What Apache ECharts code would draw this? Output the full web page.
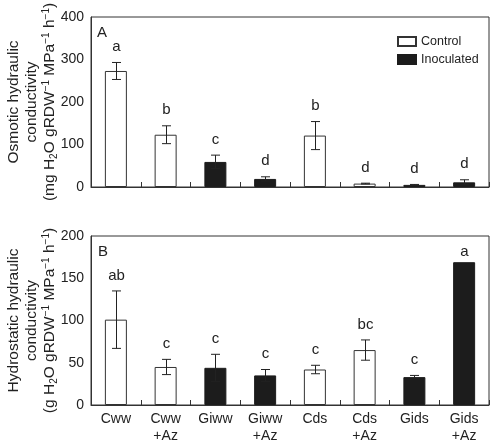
<!DOCTYPE html>
<html>
<head>
<meta charset="utf-8">
<script src="https://cdn.jsdelivr.net/npm/echarts@6/dist/echarts.min.js"></script>
<style>
html,body{margin:0;padding:0;background:#fff;}
#chart{width:491px;height:445px;}
</style>
</head>
<body>
<div id="chart"></div>
<script>
// ---- data ----
const categories = ['Cww', 'Cww\n+Az', 'Giww', 'Giww\n+Az', 'Cds', 'Cds\n+Az', 'Gids', 'Gids\n+Az'];
const treatment = ['Control', 'Control', 'Inoculated', 'Inoculated', 'Control', 'Control', 'Inoculated', 'Inoculated'];
const osmoticMean = [273, 123, 59, 19, 121, 8, 5, 11];
const osmoticErr = [20, 21, 16, 5, 33, 1, 1, 6];
const osmoticLetters = ['a', 'b', 'c', 'd', 'b', 'd', 'd', 'd'];
const hydroMean = [101, 45, 44, 35, 42, 65, 33, 169];
const hydroErr = [34, 9, 16, 7, 5, 12, 2, 0];
const hydroLetters = ['ab', 'c', 'c', 'c', 'c', 'bc', 'c', 'a'];
const osmoticTicks = {min: 0, max: 400, interval: 100};
const hydroTicks = {min: 0, max: 200, interval: 50};

const FONT = '"Liberation Sans", Arial, Helvetica, sans-serif';
const INK = '#222';
const FRAME = '#333';
const BLACK = '#1c1c1c';

function splitBy(values, group) {
  return values.map((v, i) => treatment[i] === group ? v : null);
}

function errSeries(gridIdx, means, errs, letters) {
  return {
    type: 'custom',
    xAxisIndex: gridIdx,
    yAxisIndex: gridIdx,
    z: 10,
    silent: true,
    encode: {x: 0, y: 1},
    data: means.map((m, i) => [i, m, errs[i]]),
    renderItem: function (params, api) {
      const i = api.value(0), m = api.value(1), e = api.value(2);
      const top = api.coord([i, m + e]);
      const bot = api.coord([i, m - e]);
      const x = Math.round(top[0]) + 0.5;
      const hw = 4.5;
      const children = [];
      const ls = {stroke: INK, lineWidth: 1};
      if (e > 0) {
        children.push({type: 'line', shape: {x1: x, y1: top[1], x2: x, y2: bot[1]}, style: ls});
        children.push({type: 'line', shape: {x1: x - hw, y1: top[1], x2: x + hw, y2: top[1]}, style: ls});
        children.push({type: 'line', shape: {x1: x - hw, y1: bot[1], x2: x + hw, y2: bot[1]}, style: ls});
      }
      children.push({
        type: 'text',
        style: {
          text: letters[params.dataIndex],
          x: x,
          y: top[1] - (e > 0 ? 8 : 3),
          align: 'center',
          verticalAlign: 'bottom',
          fontSize: 15,
          fontFamily: FONT,
          fill: INK
        }
      });
      return {type: 'group', children: children};
    }
  };
}

function barSeries(gridIdx, name, means) {
  const isCtrl = name === 'Control';
  return {
    type: 'bar',
    name: name,
    xAxisIndex: gridIdx,
    yAxisIndex: gridIdx,
    barWidth: 22,
    barGap: '-100%',
    data: splitBy(means, name),
    itemStyle: isCtrl
      ? {color: '#ffffff', borderColor: FRAME, borderWidth: 1}
      : {color: BLACK, borderColor: BLACK, borderWidth: 1},
    emphasis: {disabled: true}
  };
}

const richName = {
  t: {fontSize: 15.5, lineHeight: 18, fontFamily: FONT, color: INK},
  sub: {fontSize: 10, lineHeight: 10, fontFamily: FONT, color: INK, verticalAlign: 'bottom'},
  sup: {fontSize: 10, lineHeight: 10, fontFamily: FONT, color: INK, verticalAlign: 'top'}
};

const osmoticName = '{t|Osmotic hydraulic}\n{t|conductivity}\n{t|(mg H}{sub|2}{t|O gRDW}{sup|−1}{t| MPa}{sup|−1}{t| h}{sup|−1}{t|)}';
const hydroName = '{t|Hydrostatic hydraulic}\n{t|conductivity}\n{t|(g H}{sub|2}{t|O gRDW}{sup|−1}{t| MPa}{sup|−1}{t| h}{sup|−1}{t|)}';

function yAxisDef(gridIdx, ticks, name) {
  return {
    type: 'value',
    gridIndex: gridIdx,
    min: ticks.min,
    max: ticks.max,
    interval: ticks.interval,
    name: name,
    nameLocation: 'middle',
    nameRotate: 90,
    nameGap: 32,
    nameMoveOverlap: false,
    nameTextStyle: {rich: richName},
    axisLine: {show: true, lineStyle: {color: FRAME, width: 1}},
    axisTick: {show: false},
    splitLine: {show: false},
    axisLabel: {fontSize: 14, fontFamily: FONT, color: INK, margin: 7}
  };
}

function xAxisDef(gridIdx, showLabels) {
  return {
    type: 'category',
    gridIndex: gridIdx,
    data: categories,
    boundaryGap: true,
    axisLine: {show: true, lineStyle: {color: FRAME, width: 1}},
    axisTick: {show: true, inside: true, length: 5, lineStyle: {color: FRAME}},
    axisLabel: {
      show: showLabels,
      interval: 0,
      fontSize: 14,
      lineHeight: 17,
      margin: 6,
      fontFamily: FONT,
      color: INK
    },
    splitLine: {show: false}
  };
}

const chart = echarts.init(document.getElementById('chart'), null, {renderer: 'canvas'});
chart.setOption({
  animation: false,
  backgroundColor: '#ffffff',
  textStyle: {fontFamily: FONT},
  title: [
    {text: 'A', left: 97, top: 25, padding: 0, textStyle: {fontSize: 15, fontWeight: 'normal', color: INK, fontFamily: FONT}},
    {text: 'B', left: 98, top: 244, padding: 0, textStyle: {fontSize: 15, fontWeight: 'normal', color: INK, fontFamily: FONT}}
  ],
  legend: {
    data: ['Control', 'Inoculated'],
    orient: 'vertical',
    left: 397,
    top: 35,
    padding: 0,
    itemWidth: 18,
    itemHeight: 9,
    itemGap: 5,
    icon: 'rect',
    selectedMode: false,
    textStyle: {fontSize: 12.5, fontFamily: FONT, color: INK}
  },
  grid: [
    {left: 91, right: 2, top: 17, height: 170, containLabel: false, outerBoundsMode: 'none', show: true, borderColor: FRAME, borderWidth: 1, backgroundColor: 'transparent'},
    {left: 91, right: 2, top: 236, height: 169, containLabel: false, outerBoundsMode: 'none', show: true, borderColor: FRAME, borderWidth: 1, backgroundColor: 'transparent'}
  ],
  xAxis: [xAxisDef(0, false), xAxisDef(1, true)],
  yAxis: [yAxisDef(0, osmoticTicks, osmoticName), yAxisDef(1, hydroTicks, hydroName)],
  series: [
    barSeries(0, 'Control', osmoticMean),
    barSeries(0, 'Inoculated', osmoticMean),
    errSeries(0, osmoticMean, osmoticErr, osmoticLetters),
    barSeries(1, 'Control', hydroMean),
    barSeries(1, 'Inoculated', hydroMean),
    errSeries(1, hydroMean, hydroErr, hydroLetters)
  ]
});
</script>
</body>
</html>
